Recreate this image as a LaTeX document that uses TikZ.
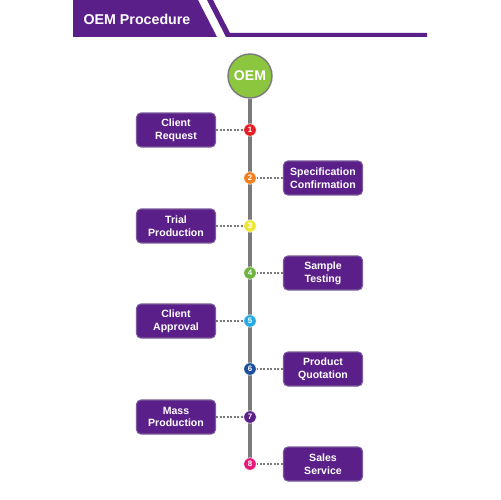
\documentclass[tikz,border=0pt]{standalone}
\usepackage{fontspec}
\setmainfont{Liberation Sans}
\usetikzlibrary{positioning}
\definecolor{oempurple}{HTML}{5B1F8A}
\definecolor{oemedge}{HTML}{7A5A99}
\definecolor{oemgreen}{HTML}{8CC63F}
\definecolor{spinegray}{HTML}{7A7A7A}
\definecolor{cone}{HTML}{E31E24}
\definecolor{ctwo}{HTML}{F07F1F}
\definecolor{cthree}{HTML}{EDE63A}
\definecolor{cfour}{HTML}{6DB33F}
\definecolor{cfive}{HTML}{27AAE1}
\definecolor{csix}{HTML}{1F4E9C}
\definecolor{cseven}{HTML}{5B1F8A}
\definecolor{ceight}{HTML}{E6197A}

\begin{document}
\begin{tikzpicture}[
    x=0.02cm, y=-0.02cm,
    stepbox/.style={rectangle, rounded corners=2.5pt, draw=oemedge, fill=oempurple,
        line width=0.6pt, text=white, minimum width=1.58cm, minimum height=0.68cm,
        inner sep=1pt, align=center, font=\fontsize{6}{7.2}\selectfont\bfseries},
    num/.style={circle, draw=white, line width=0.3pt, minimum size=0.25cm,
        inner sep=0pt, text=white, font=\fontsize{4.5}{5}\selectfont\bfseries},
    dl/.style={dash pattern=on 1.2pt off 0.8pt, spinegray, line width=0.6pt}
]
\fill[white] (0,0) rectangle (500,500);
% header band
\fill[oempurple] (73,0) -- (198,0) -- (217,37) -- (73,37) -- cycle;
\fill[oempurple] (207,0) -- (213,0) -- (230,33) -- (427,33) -- (427,37) -- (226,37) -- cycle;
\node[text=white, font=\fontsize{8.1}{10}\selectfont\bfseries] (title) at (137,19) {OEM Procedure};
% timeline
\node[circle, fill=oemgreen, draw=spinegray, line width=0.8pt, minimum size=0.88cm,
      inner sep=0pt, text=white, font=\fontsize{8}{9}\selectfont\bfseries] (oem) at (250,76) {OEM};
\coordinate (end) at (250,464);
\draw[spinegray, line width=2.3pt] (oem) -- (end);
\node[num, fill=cone] (n1) at (250,130) {1};
\node[num, fill=ctwo] (n2) at (250,178) {2};
\node[num, fill=cthree] (n3) at (250,226) {3};
\node[num, fill=cfour] (n4) at (250,273) {4};
\node[num, fill=cfive] (n5) at (250,321) {5};
\node[num, fill=csix] (n6) at (250,369) {6};
\node[num, fill=cseven] (n7) at (250,417) {7};
\node[num, fill=ceight] (n8) at (250,464) {8};
% steps
\node[stepbox] (req) at (176,130) {Client\\Request};
\node[stepbox] (spec) at (323,178) {Specification\\Confirmation};
\node[stepbox] (trial) at (176,226) {Trial\\Production};
\node[stepbox] (test) at (323,273) {Sample\\Testing};
\node[stepbox] (appr) at (176,321) {Client\\Approval};
\node[stepbox] (quote) at (323,369) {Product\\Quotation};
\node[stepbox] (mass) at (176,417) {Mass\\Production};
\node[stepbox] (sales) at (323,464) {Sales\\Service};
\draw[dl] (req) -- (n1); \draw[dl] (spec) -- (n2); \draw[dl] (trial) -- (n3);
\draw[dl] (test) -- (n4); \draw[dl] (appr) -- (n5); \draw[dl] (quote) -- (n6);
\draw[dl] (mass) -- (n7); \draw[dl] (sales) -- (n8);
\end{tikzpicture}
\end{document}
